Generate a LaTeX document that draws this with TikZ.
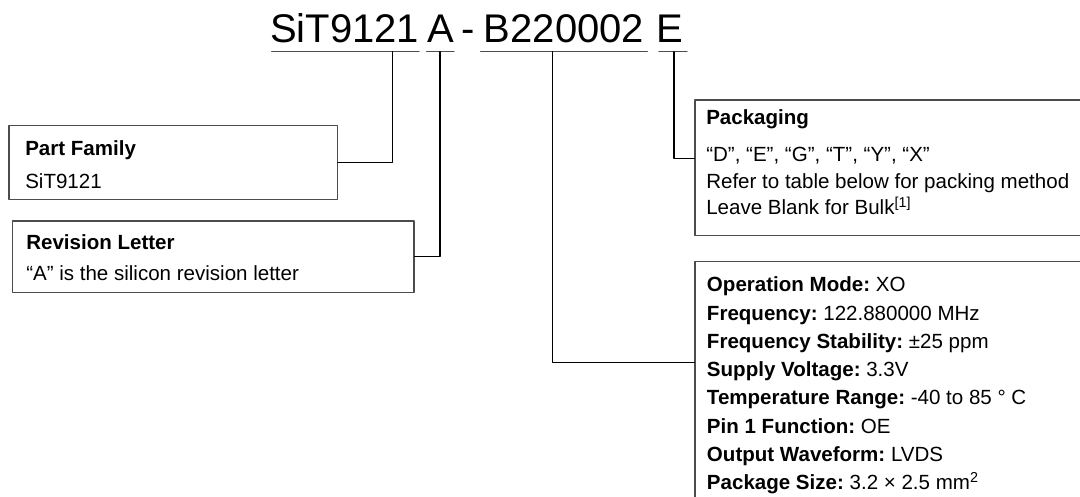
\documentclass[tikz,border=0pt]{standalone}
\usepackage{fontspec}
\setmainfont{Liberation Sans}
\usetikzlibrary{fit}
\begin{document}
\begin{tikzpicture}[x=0.75pt, y=-0.75pt, line join=round, line cap=round,
	font=\fontsize{15.4}{18}\selectfont\frenchspacing,
	box/.style={draw=black!70, line width=1pt, inner sep=0pt},
	wire/.style={line width=0.8pt},
	uline/.style={draw=black!70, line width=1pt},
	txt/.style={anchor=base west, inner sep=0pt},
	code/.style={anchor=base, inner sep=0pt, font=\fontsize{30}{36}\selectfont}]
	\useasboundingbox (0,0) rectangle (1080,496);
	\clip (0,0) rectangle (1080,496);
	% part number and its fields
	\node[code] (cFam) at (344.5,42.7) {SiT9121};
	\node[code] (cRev) at (440.5,42.7) {A};
	\node[code] (cDash) at (468.5,42.7) {-};
	\node[code] (cCfg) at (564,42.7) {B220002};
	\node[code] (cPack) at (669.7,42.7) {E};
	\draw[uline] (271.7,51.7)--(419,51.7) (426.7,51.7)--(454,51.7)
		(480.7,51.7)--(647.3,51.7) (659,51.7)--(687,51.7);
	\coordinate (tFam) at (392.7,51.7);
	\coordinate (tRev) at (440,51.7);
	\coordinate (tCfg) at (552.7,51.7);
	\coordinate (tPack) at (674,51.7);
	% boxes
	\node[box, fit={(9,125.7) (337.3,199.3)}] (famBox) {};
	\node[box, fit={(12.7,221) (414,292.7)}] (revBox) {};
	\node[box, fit={(695,100) (1100,235.7)}] (packBox) {};
	\node[box, fit={(695,261.7) (1100,520)}] (optBox) {};
	% texts
	\node[txt] (famHead) at (25,155) {\textbf{Part Family}};
	\node[txt] (famVal) at (25,188.7) {SiT9121};
	\node[txt] (revHead) at (26,249.3) {\textbf{Revision Letter}};
	\node[txt] (revVal) at (26,280) {“A” is the silicon revision letter};
	\node[txt] (packHead) at (706,124) {\textbf{Packaging}};
	\node[txt] (packCodes) at (706,161.7) {“D”, “E”, “G”, “T”, “Y”, “X”};
	\node[txt] (packRef) at (706,188.3) {Refer to table below for packing method};
	\node[txt] (packBulk) at (706,214) {Leave Blank for Bulk\textsuperscript{[1]}};
	\foreach \k/\key/\val in {0/Operation Mode/XO, 1/Frequency/122.880000 MHz,
		2/Frequency Stability/±25 ppm, 3/Supply Voltage/3.3V,
		4/Temperature Range/-40 to 85 ° C, 5/Pin 1 Function/OE,
		6/Output Waveform/LVDS, 7/Package Size/{3.2 × 2.5 mm\textsuperscript{2}}}
		\node[txt] (opt\k) at (706.7,291.7+28.3*\k) {\textbf{\key:} \val};
	% connectors
	\draw[wire] (tFam) |- (famBox.east);
	\draw[wire] (tRev) |- (revBox.east);
	\draw[wire] (tCfg) |- ([yshift=-76.2pt]optBox.north west);
	\draw[wire] (tPack) |- ([yshift=6.7pt]packBox.west);
\end{tikzpicture}
\end{document}
